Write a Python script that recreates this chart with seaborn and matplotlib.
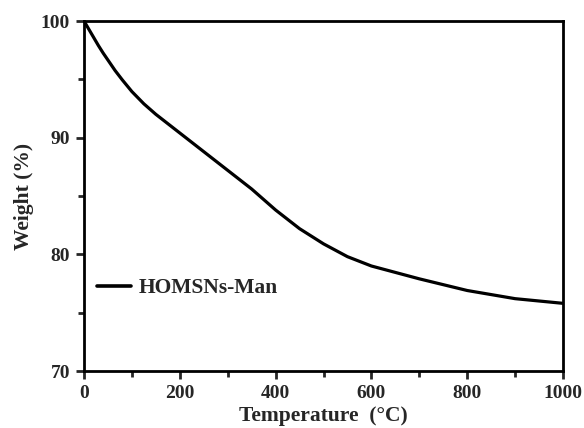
import matplotlib
matplotlib.use("Agg")
import matplotlib.pyplot as plt
from matplotlib.ticker import MultipleLocator
import seaborn as sns
import pandas as pd

# TGA curve of HOMSNs-Man
temperature = [0, 5, 10, 20, 30, 40, 50, 65, 80, 100, 125, 150, 200, 250,
               300, 350, 400, 450, 500, 550, 600, 700, 800, 900, 1000]
weight = [100.0, 99.65, 99.3, 98.6, 97.9, 97.25, 96.65, 95.75, 94.95, 93.95,
          92.9, 92.0, 90.4, 88.8, 87.2, 85.6, 83.8, 82.2, 80.9, 79.8, 79.0,
          77.9, 76.9, 76.2, 75.8]
series_name = "HOMSNs-Man"

df = pd.DataFrame({"Temperature": temperature, "Weight": weight,
                   "Sample": series_name})

sns.set_style("ticks")
plt.rcParams["font.family"] = ["Liberation Serif", "DejaVu Serif"]
plt.rcParams["font.weight"] = "bold"

fig = plt.figure(figsize=(5.84, 4.28), dpi=100)
ax = fig.add_axes([84 / 584, 1 - 371 / 428, (563 - 84) / 584, (371 - 21) / 428])

sns.lineplot(data=df, x="Temperature", y="Weight", hue="Sample",
             palette=["black"], linewidth=2.3, ax=ax)

ax.set_xlim(0, 1000)
ax.set_ylim(70, 100)
ax.xaxis.set_major_locator(MultipleLocator(200))
ax.xaxis.set_minor_locator(MultipleLocator(100))
ax.yaxis.set_major_locator(MultipleLocator(10))
ax.yaxis.set_minor_locator(MultipleLocator(5))

for side in ax.spines.values():
    side.set_linewidth(2.0)
    side.set_color("black")

ax.tick_params(axis="both", which="major", direction="out", length=6,
               width=2.0, labelsize=14, pad=4)
ax.tick_params(axis="both", which="minor", direction="out", length=4,
               width=2.0)
for lab in ax.get_xticklabels() + ax.get_yticklabels():
    lab.set_fontweight("bold")

ax.set_xlabel("Temperature  (\u00b0C)", fontsize=15.5, fontweight="bold",
              labelpad=3)
ax.set_ylabel("Weight (%)", fontsize=15.5, fontweight="bold", labelpad=5)

leg = ax.legend(loc="center left", bbox_to_anchor=(0.027, 0.237),
                frameon=False, borderaxespad=0, borderpad=0,
                prop={"size": 15.5, "weight": "bold"}, handlelength=1.6,
                handletextpad=0.35)
for h in leg.get_lines():
    h.set_linewidth(2.6)

fig.savefig("out.png", dpi=100, facecolor="white")
